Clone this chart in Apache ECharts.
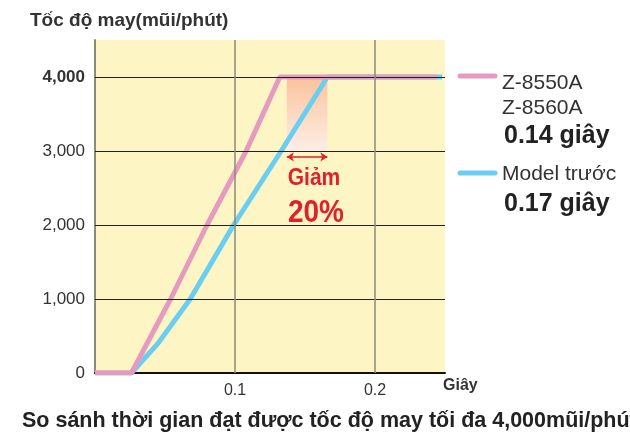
<!DOCTYPE html>
<html>
<head>
<meta charset="utf-8">
<script src="https://cdn.jsdelivr.net/npm/echarts@6/dist/echarts.min.js"></script>
<style>
    html, body { margin: 0; padding: 0; background: #fff; }
    #chart { width: 630px; height: 442px; }
</style>
</head>
<body>
<div id="chart"></div>
<script>
    // data (time in s, speed in stitches/min)
    var newModel = [[0, 0], [0.026, 0], [0.054, 1000], [0.080, 2000], [0.108, 3000], [0.132, 4000], [0.244, 4000]];
    var oldModel = [[0, 0], [0.026, 0], [0.045, 400], [0.068, 1000], [0.099, 2000], [0.133, 3000], [0.166, 4000], [0.248, 4000]];
    var yTicks = [1000, 2000, 3000, 4000];
    var xTicks = [0.1, 0.2];
    var gapStart = 0.137, gapEnd = 0.166;   // shaded "Giảm 20%" band
    var gapLow = 3000, gapHigh = 4000, arrowAt = 2920;

    var newLabels = ['Z-8550A', 'Z-8560A', '0.14 giây'];
    var oldLabels = ['Model trước', '0.17 giây'];

    var pink = '#e69abf', blue = '#6acdf2', red = '#e0202a';
    var font = 'Liberation Sans, Arial, sans-serif';

    function fmtNum(v) {
        return String(v).replace(/\B(?=(\d{3})+(?!\d))/g, ',');
    }

    var gridLines = [];
    yTicks.forEach(function (v) {
        gridLines.push({ yAxis: v, lineStyle: { color: '#222', width: 1, type: 'solid' } });
    });
    xTicks.forEach(function (v) {
        gridLines.push({ xAxis: v, lineStyle: { color: '#8c8a78', width: 1.5, type: 'solid' } });
    });

    var option = {
        backgroundColor: '#fff',
        animation: false,
        textStyle: { fontFamily: font },
        grid: { left: 95, right: 185, top: 40, bottom: 69, show: true, backgroundColor: '#fdf6c4', borderWidth: 0 },
        xAxis: {
            type: 'value', min: 0, max: 0.25, interval: 0.1,
            axisLine: { show: true, lineStyle: { color: '#111', width: 2 } },
            axisTick: { show: false },
            splitLine: { show: false },
            axisLabel: {
                color: '#333', fontSize: 16, margin: 10,
                formatter: function (v) { return xTicks.indexOf(v) >= 0 ? String(v) : ''; }
            }
        },
        yAxis: {
            type: 'value', min: 0, max: 4500, interval: 1000,
            axisLine: { show: true, lineStyle: { color: '#8c8a78', width: 2 } },
            axisTick: { show: false },
            splitLine: { show: false },
            axisLabel: {
                color: '#333', fontSize: 17, margin: 10,
                formatter: function (v) {
                    if (v > 4000) return '';
                    if (v === 4000) return '{b|' + fmtNum(v) + '}';
                    return fmtNum(v);
                },
                rich: { b: { fontWeight: 'bold', fontSize: 17, color: '#333' } }
            }
        },
        series: [
            {
                type: 'line', data: [], silent: true, z: 1,
                markLine: { silent: true, symbol: 'none', label: { show: false }, data: gridLines },
                markArea: {
                    silent: true,
                    itemStyle: {
                        color: new echarts.graphic.LinearGradient(0, 0, 0, 1, [
                            { offset: 0, color: '#fbc39c' },
                            { offset: 1, color: '#fdeee6' }
                        ])
                    },
                    data: [[{ coord: [gapStart, gapHigh] }, { coord: [gapEnd, gapLow] }]]
                }
            },
            {
                name: 'Model trước', type: 'line', data: oldModel, symbol: 'none', z: 3,
                lineStyle: { color: blue, width: 5 }
            },
            {
                name: 'Z-8550A', type: 'line', data: newModel, symbol: 'none', z: 4,
                lineStyle: { color: pink, width: 5 },
                markLine: {
                    silent: true, symbol: ['arrow', 'arrow'], symbolSize: [7, 7],
                    label: { show: false },
                    lineStyle: { color: red, width: 1.5, type: 'solid' },
                    data: [[{ coord: [gapStart, arrowAt] }, { coord: [gapEnd, arrowAt] }]]
                }
            }
        ],
        graphic: [
            { type: 'text', left: 30, top: 11, style: { text: 'Tốc độ may(mũi/phút)', font: 'bold 19px ' + font, fill: '#333' } },
            { type: 'text', left: 443, top: 378, style: { text: 'Giây', font: 'bold 16px ' + font, fill: '#333' } },
            { type: 'text', left: 22, top: 410, style: { text: 'So sánh thời gian đạt được tốc độ may tối đa 4,000mũi/phút', font: 'bold 21.5px ' + font, fill: '#222' } },

            { type: 'text', x: 314, y: 178, scaleY: 1.15, style: { text: 'Giảm', font: 'bold 21px ' + font, fill: red, align: 'center', verticalAlign: 'middle' } },
            { type: 'text', x: 316, y: 213, scaleY: 1.15, style: { text: '20%', font: 'bold 28px ' + font, fill: red, align: 'center', verticalAlign: 'middle' } },

            // legend
            { type: 'line', shape: { x1: 460, y1: 76, x2: 495, y2: 76 }, style: { stroke: pink, lineWidth: 5, lineCap: 'round' } },
            { type: 'text', x: 502, y: 83, style: { text: newLabels[0], font: '21px ' + font, fill: '#333', verticalAlign: 'middle' } },
            { type: 'text', x: 502, y: 108, style: { text: newLabels[1], font: '21px ' + font, fill: '#333', verticalAlign: 'middle' } },
            { type: 'text', x: 504, y: 136, style: { text: newLabels[2], font: 'bold 25px ' + font, fill: '#222', verticalAlign: 'middle' } },
            { type: 'line', shape: { x1: 460, y1: 173, x2: 495, y2: 173 }, style: { stroke: blue, lineWidth: 5, lineCap: 'round' } },
            { type: 'text', x: 502, y: 174, style: { text: oldLabels[0], font: '21px ' + font, fill: '#333', verticalAlign: 'middle' } },
            { type: 'text', x: 504, y: 204, style: { text: oldLabels[1], font: 'bold 25px ' + font, fill: '#222', verticalAlign: 'middle' } }
        ]
    };

    var myChart = echarts.init(document.getElementById('chart'));
    myChart.setOption(option);
</script>
</body>
</html>
